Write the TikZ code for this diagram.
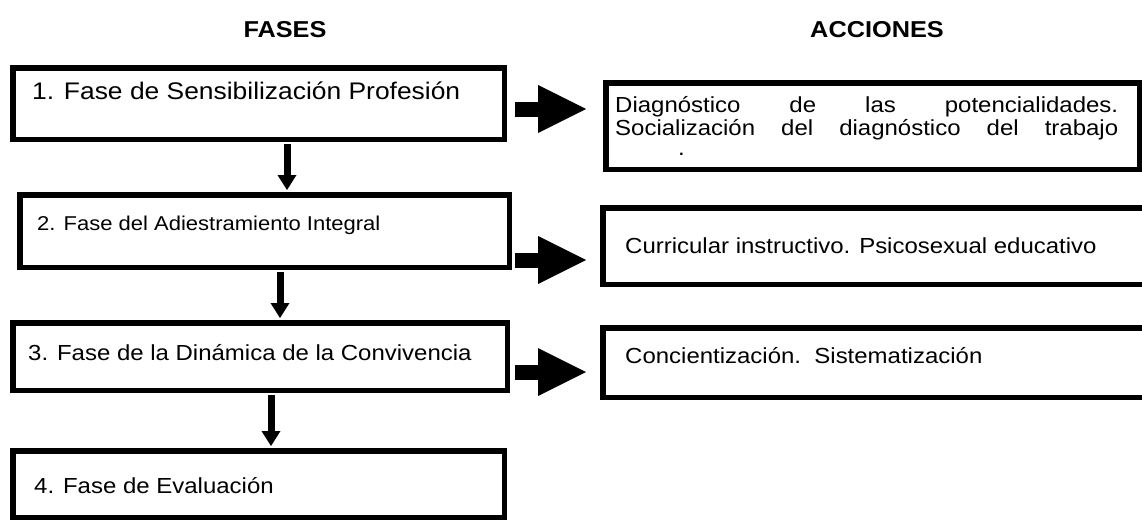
\documentclass[tikz,border=0pt]{standalone}
\usepackage{fontspec}
\setmainfont[FakeStretch=1.1]{Liberation Sans}
\usetikzlibrary{arrows.meta,calc}
\begin{document}
\begin{tikzpicture}[x=1pt,y=-1pt,
  box/.style={draw=black, line width=5.5pt, inner sep=0pt, anchor=north west},
  txt/.style={anchor=base west, inner sep=0pt, font=\fontsize{21.8}{26}\selectfont},
  head/.style={font=\fontsize{23}{27}\selectfont\bfseries, inner sep=0pt},
  downarrow/.style={line width=7pt, shorten <=2pt, shorten >=2pt,
    -{Triangle[width=19pt,length=15pt,line width=0pt]}},
  bigarrow/.style={line width=15pt, -{Triangle[width=48pt,length=48pt,line width=0pt]}}]
\useasboundingbox (0,0) rectangle (1142,522);
\clip (0,0) rectangle (1142,522);
% headers
\node[head] (h1) at (285,30) {FASES};
\node[head] (h2) at (877,30) {ACCIONES};
% left boxes
\node[box, minimum width=491.5pt, minimum height=71.5pt] (b1) at (10,65) {};
\node[box, minimum width=489.5pt, minimum height=72.5pt] (b2) at (17,192) {};
\node[box, minimum width=494.5pt, minimum height=67.5pt] (b3) at (10,320) {};
\node[box, minimum width=491.5pt, minimum height=66.5pt] (b4) at (10,448) {};
% right boxes
\node[box, minimum width=533.5pt, minimum height=86.5pt] (a1) at (603,80) {};
\node[box, minimum width=546.5pt, minimum height=76.5pt] (a2) at (600,205) {};
\node[box, minimum width=546.5pt, minimum height=69.5pt] (a3) at (600,325) {};
% left texts
\node[txt, font=\fontsize{24}{28}\selectfont] (t1) at (32,99) {1. Fase de Sensibilización Profesión};
\node[txt, font=\fontsize{20}{24}\selectfont] (t2) at (37,230) {2. Fase del Adiestramiento Integral};
\node[txt] (t3) at (28,360) {3. Fase de la Dinámica de la Convivencia};
\node[txt] (t4) at (34,493) {4. Fase de Evaluación};
% right texts
\node[txt] (r1a) at (615,112) {\hbox to 503pt{Diagnóstico\hfill de\hfill las\hfill potencialidades.}};
\node[txt] (r1b) at (615,135) {\hbox to 503pt{Socialización\hfill del\hfill diagnóstico\hfill del\hfill trabajo}};
\node[txt] (r1c) at (678,155) {.};
\node[txt] (r2) at (625,253) {Curricular instructivo. Psicosexual educativo};
\node[txt] (r3) at (625,363) {Concientización.\ \ Sistematización};
% down arrows
\coordinate (d1) at (287,0);
\coordinate (d2) at (280,0);
\coordinate (d3) at (271,0);
\draw[downarrow] (b1.south -| d1) -- (b2.north -| d1);
\draw[downarrow] (b2.south -| d2) -- (b3.north -| d2);
\draw[downarrow] (b3.south -| d3) -- (b4.north -| d3);
% big arrows
\coordinate (s1) at (515,109); \coordinate (e1) at (586,109);
\coordinate (s2) at (515,260); \coordinate (e2) at (586,260);
\coordinate (s3) at (515,372); \coordinate (e3) at (586,372);
\draw[bigarrow] (s1) -- (e1);
\draw[bigarrow] (s2) -- (e2);
\draw[bigarrow] (s3) -- (e3);
\end{tikzpicture}
\end{document}
